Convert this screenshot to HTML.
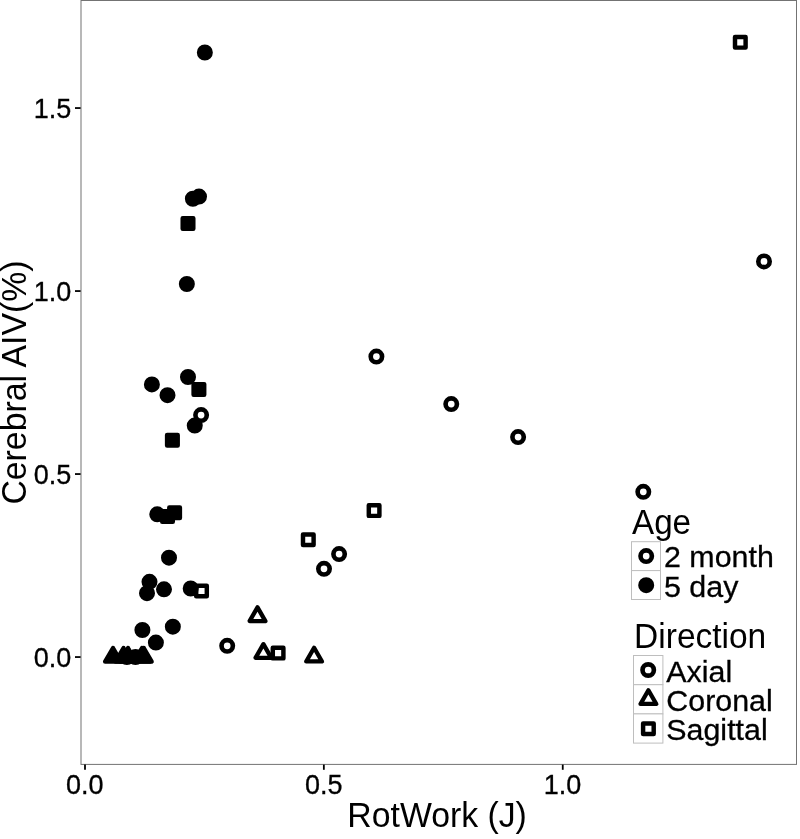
<!DOCTYPE html>
<html lang="en"><head><meta charset="utf-8"><title>Cerebral AIV vs RotWork</title>
<style>html,body{margin:0;padding:0;background:#fff}svg{display:block;will-change:transform;filter:grayscale(1)}text{font-family:"Liberation Sans",sans-serif;fill:#000}.tk{font-size:27px;stroke:#000;stroke-width:.3px}.ax{font-size:33.8px}.lt{font-size:33.8px}.ll{font-size:30.4px;stroke:#000;stroke-width:.3px}.m{stroke:#000;stroke-width:4.3;stroke-linejoin:round}</style></head><body>
<svg width="800" height="839" viewBox="0 0 800 839">
<rect x="0" y="0" width="800" height="839" fill="#fff"/>
<rect x="81.0" y="0.5" width="715.5" height="763.9" fill="none" stroke="#737373" stroke-width="1"/>
<g stroke="#000" stroke-width="1.8">
<line x1="75" y1="108.05" x2="80.6" y2="108.05"/>
<line x1="75" y1="291.05" x2="80.6" y2="291.05"/>
<line x1="75" y1="474.05" x2="80.6" y2="474.05"/>
<line x1="75" y1="657.05" x2="80.6" y2="657.05"/>
<line x1="85.0" y1="764.6" x2="85.0" y2="769.8"/>
<line x1="323.85" y1="764.6" x2="323.85" y2="769.8"/>
<line x1="562.75" y1="764.6" x2="562.75" y2="769.8"/>
</g>
<text class="tk" transform="translate(71.3 118.20) scale(1 1.03)" text-anchor="end">1.5</text>
<text class="tk" transform="translate(71.3 301.20) scale(1 1.03)" text-anchor="end">1.0</text>
<text class="tk" transform="translate(71.3 484.20) scale(1 1.03)" text-anchor="end">0.5</text>
<text class="tk" transform="translate(71.3 667.20) scale(1 1.03)" text-anchor="end">0.0</text>
<text class="tk" transform="translate(84.80 794.2) scale(1 1.03)" text-anchor="middle">0.0</text>
<text class="tk" transform="translate(323.65 794.2) scale(1 1.03)" text-anchor="middle">0.5</text>
<text class="tk" transform="translate(562.55 794.2) scale(1 1.03)" text-anchor="middle">1.0</text>
<text class="ax" transform="translate(347.3 826.6) scale(1 1.02)">RotWork (J)</text>
<text class="ax" transform="translate(26 504.6) rotate(-90) scale(1 1.05)">Cerebral AIV(%)</text>
<text class="lt" transform="translate(632.0 534.3) scale(1 1.03)" style="font-size:33.2px">Age</text>
<g fill="#fff" stroke="#bebebe" stroke-width="1">
<rect x="631.5" y="541.7" width="29" height="28.9"/><rect x="631.5" y="570.6" width="29" height="28.9"/>
<rect x="633.5" y="655.5" width="29.4" height="29.2"/><rect x="633.5" y="684.7" width="29.4" height="29.2"/><rect x="633.5" y="713.9" width="29.4" height="29.2"/>
</g>
<text class="ll" transform="translate(664.0 567.4) scale(1 1.0)">2 month</text>
<text class="ll" transform="translate(664.0 596.6) scale(1 1.0)">5 day</text>
<text class="lt" transform="translate(634.1 647.8) scale(1 1.02)" style="font-size:33.5px">Direction</text>
<text class="ll" transform="translate(666.3 681.5) scale(1 1.0)">Axial</text>
<text class="ll" transform="translate(666.3 710.5) scale(1 1.0)">Coronal</text>
<text class="ll" transform="translate(666.3 739.7) scale(1 1.0)">Sagittal</text>
<g class="m">
<path d="M113.00 647.98L120.90 661.66L105.10 661.66Z" fill="#000"/>
<path d="M123.50 647.98L131.40 661.66L115.60 661.66Z" fill="#000"/>
<path d="M128.00 647.98L135.90 661.66L120.10 661.66Z" fill="#000"/>
<path d="M142.00 647.98L149.90 661.66L134.10 661.66Z" fill="#000"/>
<path d="M143.80 647.98L151.70 661.66L135.90 661.66Z" fill="#000"/>
<circle cx="204.85" cy="52.50" r="5.68" fill="#000" stroke-width="4.65"/>
<circle cx="192.90" cy="198.75" r="5.68" fill="#000" stroke-width="4.65"/>
<circle cx="199.00" cy="196.60" r="5.68" fill="#000" stroke-width="4.65"/>
<circle cx="186.85" cy="284.00" r="5.68" fill="#000" stroke-width="4.65"/>
<circle cx="151.90" cy="384.40" r="5.68" fill="#000" stroke-width="4.65"/>
<circle cx="167.50" cy="395.20" r="5.68" fill="#000" stroke-width="4.65"/>
<circle cx="188.00" cy="377.00" r="5.68" fill="#000" stroke-width="4.65"/>
<circle cx="194.75" cy="425.60" r="5.68" fill="#000" stroke-width="4.65"/>
<circle cx="157.25" cy="514.30" r="5.68" fill="#000" stroke-width="4.65"/>
<circle cx="169.00" cy="557.70" r="5.68" fill="#000" stroke-width="4.65"/>
<circle cx="149.50" cy="581.80" r="5.68" fill="#000" stroke-width="4.65"/>
<circle cx="147.00" cy="593.20" r="5.68" fill="#000" stroke-width="4.65"/>
<circle cx="164.00" cy="589.30" r="5.68" fill="#000" stroke-width="4.65"/>
<circle cx="190.70" cy="588.50" r="5.68" fill="#000" stroke-width="4.65"/>
<circle cx="142.40" cy="630.00" r="5.68" fill="#000" stroke-width="4.65"/>
<circle cx="172.85" cy="626.70" r="5.68" fill="#000" stroke-width="4.65"/>
<circle cx="155.90" cy="642.60" r="5.68" fill="#000" stroke-width="4.65"/>
<circle cx="126.90" cy="657.05" r="5.68" fill="#000" stroke-width="4.65"/>
<circle cx="135.50" cy="657.05" r="5.68" fill="#000" stroke-width="4.65"/>
<rect x="182.70" y="218.20" width="10.6" height="10.6" fill="#000" stroke-width="4.45"/>
<rect x="193.60" y="384.10" width="10.6" height="10.6" fill="#000" stroke-width="4.45"/>
<rect x="167.10" y="435.00" width="10.6" height="10.6" fill="#000" stroke-width="4.45"/>
<rect x="169.30" y="507.40" width="10.6" height="10.6" fill="#000" stroke-width="4.45"/>
<rect x="162.20" y="511.20" width="10.6" height="10.6" fill="#000" stroke-width="4.45"/>
<path d="M257.50 607.38L265.40 621.06L249.60 621.06Z" fill="none"/>
<path d="M263.40 644.18L271.30 657.86L255.50 657.86Z" fill="none"/>
<path d="M314.10 647.78L322.00 661.46L306.20 661.46Z" fill="none"/>
<circle cx="201.10" cy="415.10" r="5.68" fill="none" stroke-width="4.65"/>
<circle cx="376.40" cy="356.60" r="5.68" fill="none" stroke-width="4.65"/>
<circle cx="451.25" cy="404.10" r="5.68" fill="none" stroke-width="4.65"/>
<circle cx="518.10" cy="437.10" r="5.68" fill="none" stroke-width="4.65"/>
<circle cx="643.30" cy="491.80" r="5.68" fill="none" stroke-width="4.65"/>
<circle cx="764.00" cy="261.40" r="5.68" fill="none" stroke-width="4.65"/>
<circle cx="339.10" cy="554.10" r="5.68" fill="none" stroke-width="4.65"/>
<circle cx="324.00" cy="568.80" r="5.68" fill="none" stroke-width="4.65"/>
<circle cx="227.20" cy="645.85" r="5.68" fill="none" stroke-width="4.65"/>
<rect x="735.00" y="37.00" width="10.6" height="10.6" fill="none" stroke-width="4.45"/>
<rect x="368.80" y="505.30" width="10.6" height="10.6" fill="none" stroke-width="4.45"/>
<rect x="303.00" y="534.40" width="10.6" height="10.6" fill="none" stroke-width="4.45"/>
<rect x="196.20" y="585.70" width="10.6" height="10.6" fill="none" stroke-width="4.45"/>
<rect x="272.80" y="647.80" width="10.6" height="10.6" fill="none" stroke-width="4.45"/>
<circle cx="646.20" cy="556.10" r="5.68" fill="none" stroke-width="4.65"/>
<circle cx="646.20" cy="585.20" r="5.68" fill="#000" stroke-width="4.65"/>
<circle cx="648.20" cy="670.00" r="5.68" fill="none" stroke-width="4.65"/>
<path d="M648.40 690.28L656.30 703.96L640.50 703.96Z" fill="none"/>
<rect x="643.10" y="723.40" width="10.6" height="10.6" fill="none" stroke-width="4.45"/>
</g>
</svg></body></html>
